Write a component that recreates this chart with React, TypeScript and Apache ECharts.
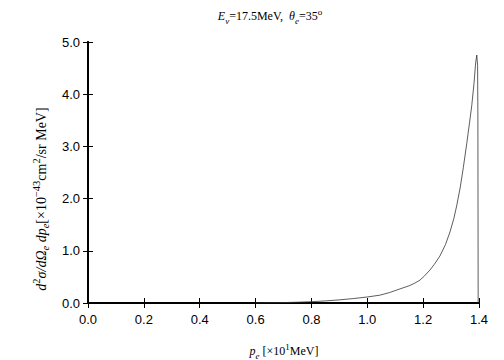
import React, { useEffect, useRef } from "react";
import * as echarts from "echarts";

const xTicks = ["0.0", "0.2", "0.4", "0.6", "0.8", "1.0", "1.2", "1.4"];
const yTicks = ["0.0", "1.0", "2.0", "3.0", "4.0", "5.0"];
const momentum = [0.6, 0.65, 0.7, 0.75, 0.8, 0.85, 0.9, 0.95, 1.0, 1.045, 1.08, 1.117, 1.15, 1.17, 1.189, 1.205, 1.224, 1.24, 1.26, 1.28, 1.296, 1.31, 1.32, 1.333, 1.344, 1.356, 1.366, 1.374, 1.382, 1.388, 1.392, 1.395, 1.396, 1.397];
const crossSection = [0, 0.004, 0.008, 0.015, 0.025, 0.04, 0.06, 0.085, 0.115, 0.15, 0.2, 0.27, 0.33, 0.38, 0.44, 0.52, 0.63, 0.74, 0.9, 1.12, 1.36, 1.62, 1.86, 2.22, 2.6, 3.05, 3.45, 3.78, 4.2, 4.6, 4.75, 4.55, 3.6, 0];

const serif = "Liberation Serif";
const sans = "Liberation Sans";

const rich = (fs: number, ss = 0.7) => ({
  n: { fontFamily: serif, fontSize: fs, fill: "#000", lineHeight: fs + 6, verticalAlign: "middle" as const },
  i: { fontFamily: serif, fontStyle: "italic" as const, fontSize: fs, fill: "#000", lineHeight: fs + 6, verticalAlign: "middle" as const },
  sub: { fontFamily: serif, fontStyle: "italic" as const, fontSize: fs * ss, fill: "#000", lineHeight: fs + 6, verticalAlign: "bottom" as const },
  sup: { fontFamily: serif, fontSize: fs * ss, fill: "#000", lineHeight: fs + 6, verticalAlign: "top" as const },
});

export default function App() {
  const ref = useRef<HTMLDivElement>(null);
  useEffect(() => {
    if (!ref.current) return;
    const chart = echarts.init(ref.current, undefined, { renderer: "svg" });
    const data = momentum.map((x, k) => [x, crossSection[k]]);
    const axisLine = { show: true, lineStyle: { color: "#000", width: 2 } };
    const tick = { show: true, inside: true, length: 5, lineStyle: { color: "#000", width: 1 } };
    chart.setOption({
      animation: false,
      backgroundColor: "#fff",
      grid: { left: 88, right: 25, top: 42, bottom: 57, containLabel: false },
      xAxis: [
        {
          type: "value", min: 0, max: 1.4, interval: 0.2, position: "bottom",
          axisLine, axisTick: tick, splitLine: { show: false },
          axisLabel: { fontFamily: sans, fontSize: 13, color: "#000", margin: 10, formatter: (v: number) => xTicks[Math.round(v / 0.2)] ?? "" },
        },
        {
          type: "value", min: 0, max: 1.4, interval: 0.2, position: "top",
          axisLine, axisTick: tick, splitLine: { show: false }, axisLabel: { show: false },
        },
      ],
      yAxis: [
        {
          type: "value", min: 0, max: 5, interval: 1, position: "left",
          axisLine, axisTick: tick, splitLine: { show: false },
          axisLabel: { fontFamily: sans, fontSize: 13, color: "#000", margin: 8, formatter: (v: number) => yTicks[Math.round(v)] ?? "" },
        },
        {
          type: "value", min: 0, max: 5, interval: 1, position: "right",
          axisLine, axisTick: tick, splitLine: { show: false }, axisLabel: { show: false },
        },
      ],
      series: [
        {
          type: "line", data, xAxisIndex: 0, yAxisIndex: 0, showSymbol: false, symbol: "none",
          lineStyle: { color: "#333", width: 0.8 }, silent: true,
        },
      ],
      graphic: [
        {
          type: "text", x: 270, y: 16,
          style: {
            text: "{i|E}{sub|ν}{n|=17.5MeV,  }{i|θ}{sub|e}{n|=35}{sup|o}",
            rich: rich(12, 0.75), align: "center", verticalAlign: "middle",
          },
        },
        {
          type: "text", x: 284, y: 351,
          style: {
            text: "{i|p}{sub|e}{n| [×10}{sup|1}{n|MeV]}",
            rich: rich(12, 0.75), align: "center", verticalAlign: "middle",
          },
        },
        {
          type: "text", x: 41, y: 199, rotation: Math.PI / 2,
          style: {
            text: "{i|d}{sup|2}{i|σ/dΩ}{sub|e}{i| dp}{sub|e}{n|[×10}{sup|−43}{n|cm}{sup|2}{n|/sr MeV]}",
            rich: rich(14, 0.75), align: "center", verticalAlign: "middle",
          },
        },
      ],
    });
    return () => chart.dispose();
  }, []);
  return <div ref={ref} style={{ width: 504, height: 360, position: "absolute", left: 0, top: 0 }} />;
}
